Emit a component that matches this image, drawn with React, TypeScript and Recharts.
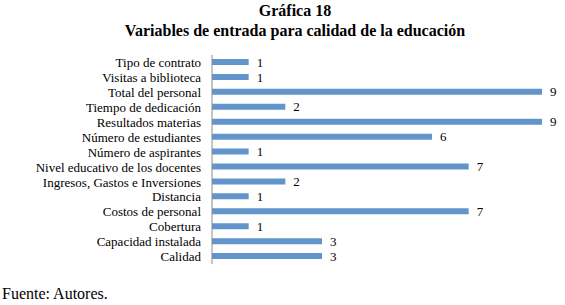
import React from "react";
import { BarChart, Bar, XAxis, YAxis, LabelList } from "recharts";

const categories = [
  "Tipo de contrato",
  "Visitas a biblioteca",
  "Total del personal",
  "Tiempo de dedicación",
  "Resultados materias",
  "Número de estudiantes",
  "Número de aspirantes",
  "Nivel educativo de los docentes",
  "Ingresos, Gastos e Inversiones",
  "Distancia",
  "Costos de personal",
  "Cobertura",
  "Capacidad instalada",
  "Calidad",
];
const values = [1, 1, 9, 2, 9, 6, 1, 7, 2, 1, 7, 1, 3, 3];
const titleLines = ["Gráfica 18", "Variables de entrada para calidad de la educación"];
const sourceText = "Fuente: Autores.";

const data = categories.map((name, i) => ({ name, value: values[i] }));

export default function App() {
  return (
    <div style={{ position: "absolute", left: 0, top: 0, width: 565, height: 305, background: "#fff" }}>
      <div style={{ position: "absolute", left: 0, top: 1, width: 590, textAlign: "center", fontFamily: "Liberation Serif", fontWeight: "bold", fontSize: 16, lineHeight: "20px", color: "#000" }}>
        {titleLines[0]}
      </div>
      <div style={{ position: "absolute", left: 0, top: 21, width: 590, textAlign: "center", fontFamily: "Liberation Serif", fontWeight: "bold", fontSize: 16, lineHeight: "20px", color: "#000" }}>
        {titleLines[1]}
      </div>
      <div style={{ position: "absolute", left: 2, top: 285, fontFamily: "Liberation Serif", fontSize: 16, lineHeight: "18px", color: "#000" }}>
        {sourceText}
      </div>
      <div style={{ position: "absolute", left: 0, top: 0 }}>
        <BarChart
          width={565}
          height={305}
          data={data}
          layout="vertical"
          margin={{ top: 55, right: 23, bottom: 41, left: 0 }}
          barCategoryGap={4}
        >
          <XAxis type="number" domain={[0, 9]} hide />
          <YAxis
            type="category"
            dataKey="name"
            width={212}
            tickLine={false}
            tickMargin={5}
            axisLine={{ stroke: "#8a8a8a" }}
            interval={0}
            tick={{ fontSize: 13, fill: "#000", fontFamily: "Liberation Serif" }}
          />
          <Bar dataKey="value" fill="#6295CC" barSize={6} isAnimationActive={false}>
            <LabelList dataKey="value" position="right" offset={8} style={{ fontSize: 13, fill: "#000", fontFamily: "Liberation Serif" }} />
          </Bar>
        </BarChart>
      </div>
    </div>
  );
}
